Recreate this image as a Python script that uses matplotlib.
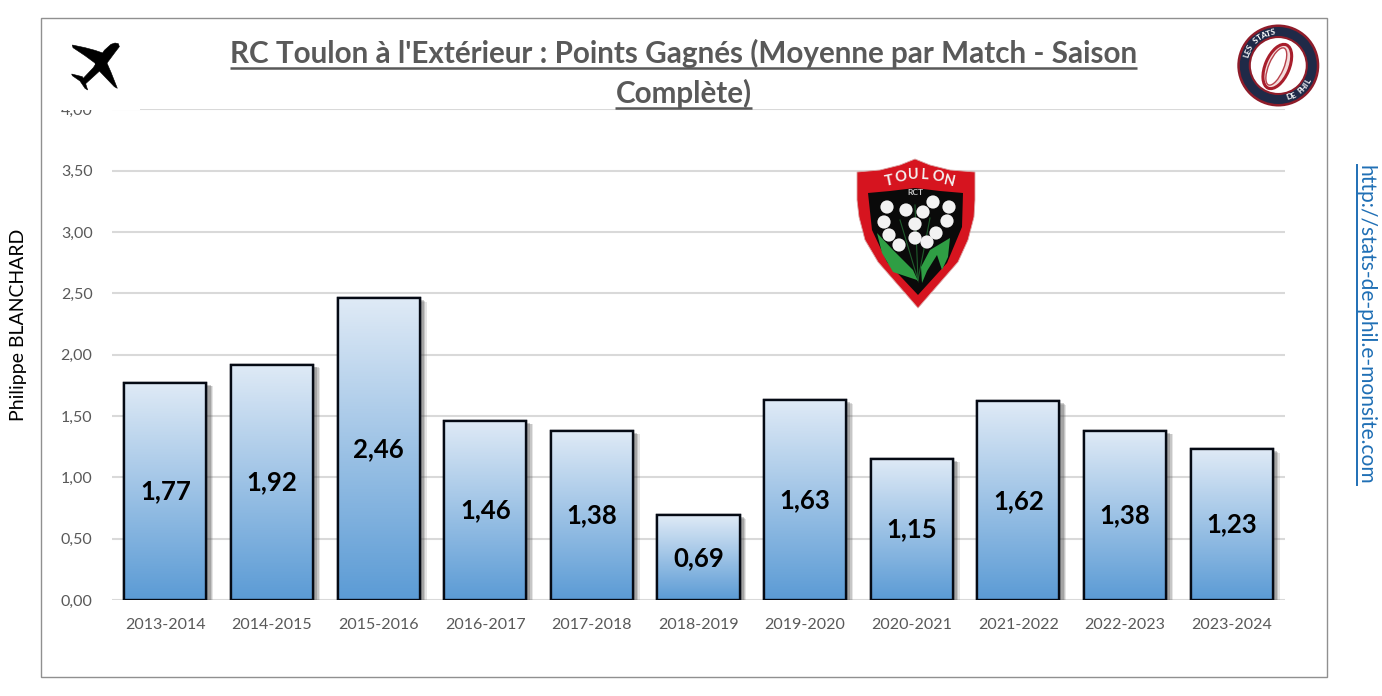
import numpy as np
import matplotlib
matplotlib.use("Agg")
import matplotlib.pyplot as plt
import matplotlib.patheffects as pe
from matplotlib.colors import LinearSegmentedColormap
from matplotlib.patches import Polygon, Circle, Ellipse, Rectangle

seasons = ["2013-2014", "2014-2015", "2015-2016", "2016-2017", "2017-2018", "2018-2019",
           "2019-2020", "2020-2021", "2021-2022", "2022-2023", "2023-2024"]
points = [1.77, 1.92, 2.46, 1.46, 1.38, 0.69, 1.63, 1.15, 1.62, 1.38, 1.23]
y_ticks = [0, 0.5, 1, 1.5, 2, 2.5, 3, 3.5, 4]
title_lines = ["RC Toulon à l'Extérieur : Points Gagnés (Moyenne par Match - Saison", "Complète)"]

W, H = 1382, 696
plt.rcParams['font.family'] = ['Lato', 'DejaVu Sans']
fig = plt.figure(figsize=(W / 100, H / 100), dpi=100, facecolor='white')

ax = fig.add_axes([112 / W, 1 - 600 / H, (1285 - 112) / W, (600 - 109.5) / H])
ax.set_facecolor('none')
x = np.arange(len(seasons))
cmap = LinearSegmentedColormap.from_list('b', ['#5b9bd5', '#dfeaf6'])
grad = np.linspace(1, 0, 128).reshape(-1, 1)
bw = 0.77
shadow = [pe.SimplePatchShadow(offset=(o, -o * 0.5), alpha=a, shadow_rgbFace='#4d4d4d')
          for o, a in ((5, .14), (4, .2), (3, .28))] + [pe.Normal()]
bars = ax.bar(x, points, width=bw, facecolor='none', edgecolor='#050a14', linewidth=1.7, zorder=4)
for b in bars:
    b.set_path_effects(shadow)
for xi, v in zip(x, points):
    ax.imshow(grad, extent=(xi - bw / 2, xi + bw / 2, 0, v), cmap=cmap, aspect='auto', zorder=4.5, vmin=0, vmax=1)
    ax.bar(xi, v, width=bw, facecolor='none', edgecolor='#050a14', linewidth=1.7, zorder=5)
for xi, v in zip(x, points):
    ax.text(xi, v / 2, f"{v:.2f}".replace('.', ','), ha='center', va='center', fontsize=18.5,
            fontweight='bold', color='black', zorder=6)
ax.set_xlim(-0.5, len(seasons) - 0.5)
ax.set_ylim(0, 4)
ax.set_yticks(y_ticks)
ax.set_yticklabels([f"{t:.2f}".replace('.', ',') for t in y_ticks], fontsize=11.5, color='#595959')
ax.set_xticks(x)
ax.set_xticklabels(seasons, fontsize=11.5, color='#595959')
ax.tick_params(length=0, pad=14, axis='y')
ax.tick_params(length=0, pad=13, axis='x')
ax.yaxis.grid(True, color='#d9d9d9', linewidth=1.5, zorder=1)
ax.set_axisbelow(True)
for s in ax.spines.values():
    s.set_visible(False)

# pixel-coordinate overlay
ov = fig.add_axes([0, 0, 1, 1], facecolor='none', zorder=10)
ov.set_xlim(0, W)
ov.set_ylim(H, 0)
ov.axis('off')

# white panel that clips the top tick label and the start of the top gridline
ov.add_patch(Rectangle((45, 20), 95, 89.5, facecolor='white', edgecolor='none', zorder=1))
ov.add_patch(Rectangle((41, 18), 1286, 659, facecolor='none', edgecolor='#909090', linewidth=1.0, zorder=2))

# title
r = fig.canvas.get_renderer()
for line, yc in zip(title_lines, (53, 93)):
    t = ov.text(683.5, yc, line, ha='center', va='center', fontsize=21.3, fontweight='bold', color='#595959', zorder=3)
    bb = t.get_window_extent(r)
    ov.plot([bb.x0, bb.x1], [yc + 14.5, yc + 14.5], color='#595959', linewidth=1.8, solid_capstyle='butt', zorder=3)

# side texts
ov.text(19, 325, "Philippe BLANCHARD", rotation=90, ha='center', va='center', fontsize=14, color='black')
t = ov.text(1366, 325, "http://stats-de-phil.e-monsite.com", rotation=270, ha='center', va='center',
            fontsize=15.1, color='#1f6fb5')
bb = t.get_window_extent(r)
ov.plot([1357, 1357], [H - bb.y1, H - bb.y0], color='#1f6fb5', linewidth=1.4)

# plane icon (outline traced on a 3x crop whose corner is at 65,35)
def crop3(pts):
    return [(65 + a / 3, 35 + b / 3) for a, b in pts]

plane = dict(facecolor='black', edgecolor='black', linewidth=0.4, zorder=3)
fuselage = [(150, 24), (160, 26), (163, 35), (150, 52), (118, 95), (62, 146), (50, 135), (85, 98), (118, 46), (138, 28)]
wing_a = [(22, 30), (60, 38), (90, 46), (125, 58), (98, 90), (60, 62), (24, 38)]
wing_b = [(157, 160), (148, 155), (105, 110), (90, 85), (124, 80), (138, 112)]
tail = [(20, 117), (52, 125), (60, 140), (68, 165), (60, 160), (45, 138), (22, 122)]
for part in (fuselage, wing_a, wing_b, tail):
    ov.add_patch(Polygon(crop3(part), **plane))

# club shield
shield = [(857, 172), (880, 170), (900, 165), (915, 159), (930, 165), (950, 170), (975, 172), (975, 200), (974, 217),
          (968, 240), (958, 262), (918, 308), (878, 262), (865, 240), (859, 217), (857, 200)]
ov.add_patch(Polygon(shield, facecolor='#d6141f', edgecolor='#d9a8a8', linewidth=0.6, zorder=3))
inner = [(868, 193), (890, 191), (915, 188), (940, 191), (963, 193), (962, 227), (947, 263), (918, 295), (887, 262), (872, 230)]
ov.add_patch(Polygon(inner, facecolor='#0a0a0a', edgecolor='none', zorder=3.1))
for letter, lx, ly, rot in zip("TOULON", (889, 901, 913, 925, 938, 949), (181, 177, 175, 175, 177, 181), (12, 7, 2, -3, -8, -13)):
    ov.text(lx, ly, letter, rotation=rot, ha='center', va='center', fontsize=10.5, fontweight='bold', color='#f4f0f0', zorder=3.2)
ov.text(915, 192.5, "RCT", ha='center', va='center', fontsize=6, fontweight='bold', color='#c8c8c8', zorder=3.2)
flowers = [(887, 207), (906, 210), (923, 212), (933, 202), (949, 207), (884, 222), (915, 224), (947, 221),
           (889, 235), (915, 238), (936, 233), (899, 245), (927, 242)]
for fx, fy in flowers:
    ov.add_patch(Circle((fx, fy), 6.6, facecolor='#f2f2f2', edgecolor='none', zorder=3.3))
for sx, sy in ((900, 220), (930, 218), (915, 205)):
    ov.plot([sx, 918], [sy, 280], color='#1f5c2c', linewidth=0.8, zorder=3.2)
leaf_a = [(877, 233), (893, 250), (913, 270), (919, 283), (917, 280), (893, 272), (882, 253)]
leaf_b = [(922, 283), (921, 267), (930, 250), (950, 238), (948, 257), (942, 270), (937, 255), (927, 271)]
for leaf in (leaf_a, leaf_b):
    ov.add_patch(Polygon(leaf, facecolor='#2f9e44', edgecolor='none', zorder=3.25))

# stats roundel
cx, cy = 1278.3, 65.5
ov.add_patch(Circle((cx, cy), 41, facecolor='#8e1c2a', edgecolor='none', zorder=3))
ov.add_patch(Circle((cx, cy), 38.5, facecolor='#1f2a48', edgecolor='none', zorder=3.1))
ov.add_patch(Circle((cx, cy), 28.5, facecolor='white', edgecolor='#8e1c2a', linewidth=1.5, zorder=3.2))
ov.add_patch(Ellipse((cx - 1, cy + 1), 24, 47, angle=23, facecolor='#f3dcdc', edgecolor='#a81e2c', linewidth=2.2, zorder=3.3))
ov.add_patch(Ellipse((cx - 2, cy + 1), 15, 40, angle=23, facecolor='white', edgecolor='#b8424c', linewidth=1, zorder=3.4))
for word, start, step, base in (("LES STATS", 197, 8, 270), ("DE PHIL", 70, -7, 90)):
    for i, ch in enumerate(word):
        deg = start + i * step
        ang = np.deg2rad(deg)
        ov.text(cx + 33.5 * np.cos(ang), cy + 33.5 * np.sin(ang), ch, rotation=base - deg, rotation_mode='anchor',
                ha='center', va='center', fontsize=6, fontweight='bold', color='white', zorder=3.5)

fig.savefig('out.png', dpi=100, facecolor='white')
